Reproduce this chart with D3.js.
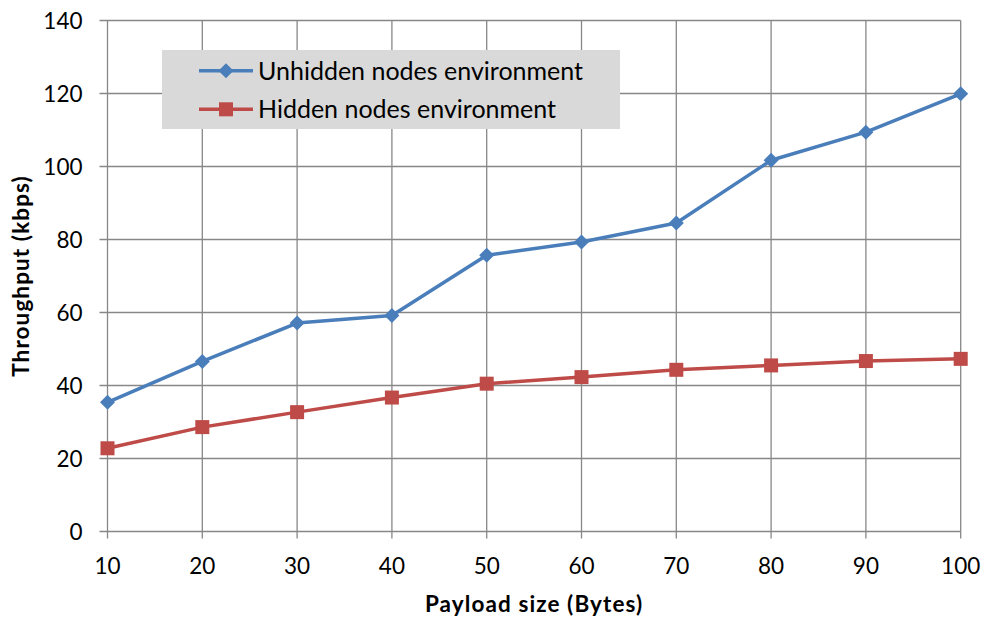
<!DOCTYPE html>
<html><head><meta charset="utf-8">
<script src="https://cdn.jsdelivr.net/npm/d3@7"></script>
<style>body{margin:0;background:#fff}svg{display:block}text{font-family:Lato,"Open Sans",sans-serif}</style>
</head><body>
<svg id="c" width="987" height="623"></svg>
<script>
const payload = [10,20,30,40,50,60,70,80,90,100];
const unhidden = [35.4,46.6,57.1,59.2,75.7,79.3,84.5,101.7,109.4,119.9];
const hidden = [22.8,28.6,32.7,36.7,40.5,42.3,44.3,45.5,46.7,47.3];
const yTicks = [0,20,40,60,80,100,120,140];
const seriesNames = ["Unhidden nodes environment","Hidden nodes environment"];
const colors = ["#4a7ebb","#be4b48"];

const svg = d3.select("#c");
const L=107.5, R=960.7, T=20.5, B=531.5;
const x = d3.scaleLinear().domain([10,100]).range([L,R]);
const y = d3.scaleLinear().domain([0,140]).range([B,T]);
const grid = "#878787";

svg.append("g").selectAll("line").data(yTicks).join("line")
  .attr("x1",L-8).attr("x2",R).attr("y1",d=>y(d)).attr("y2",d=>y(d))
  .attr("stroke",grid).attr("stroke-width",1.3);
svg.append("g").selectAll("line").data(payload).join("line")
  .attr("x1",d=>x(d)).attr("x2",d=>x(d)).attr("y1",T).attr("y2",B+7)
  .attr("stroke",grid).attr("stroke-width",1.3);

svg.append("g").selectAll("text").data(yTicks).join("text")
  .attr("x",L-25).attr("y",d=>y(d)).attr("dy","0.36em").attr("text-anchor","end")
  .attr("font-size",22.5).attr("fill","#000").text(d=>d);
svg.append("g").selectAll("text").data(payload).join("text")
  .attr("x",d=>x(d)).attr("y",574).attr("text-anchor","middle")
  .attr("font-size",22.5).attr("fill","#000").text(d=>d);

svg.append("text").attr("x",(L+R)/2).attr("y",612).attr("text-anchor","middle")
  .attr("font-size",22.5).attr("letter-spacing",1.1).attr("font-weight","bold").text("Payload size (Bytes)");
svg.append("text").attr("transform",`translate(29,${(T+B)/2}) rotate(-90)`)
  .attr("text-anchor","middle").attr("font-size",22.5).attr("letter-spacing",1.1).attr("font-weight","bold").text("Throughput (kbps)");

const line = d3.line().x((d,i)=>x(payload[i])).y(d=>y(d));
function diamond(g,cx,cy,c){g.append("path").attr("d",`M${cx},${cy-7.5}L${cx+7.5},${cy}L${cx},${cy+7.5}L${cx-7.5},${cy}Z`).attr("fill",c);}
function square(g,cx,cy,c){g.append("rect").attr("x",cx-7).attr("y",cy-7).attr("width",14).attr("height",14).attr("fill",c);}

[unhidden,hidden].forEach((s,k)=>{
  const g = svg.append("g");
  g.append("path").attr("d",line(s)).attr("fill","none").attr("stroke",colors[k]).attr("stroke-width",3.5).attr("stroke-linejoin","round");
  s.forEach((v,i)=> (k===0?diamond:square)(g,x(payload[i]),y(v),colors[k]));
});

const lg = svg.append("g");
lg.append("rect").attr("x",162).attr("y",50).attr("width",458).attr("height",79).attr("fill","#d9d9d9");
[70.7,109.3].forEach((cy,k)=>{
  lg.append("line").attr("x1",199).attr("x2",253).attr("y1",cy).attr("y2",cy).attr("stroke",colors[k]).attr("stroke-width",3.5);
  (k===0?diamond:square)(lg,226,cy,colors[k]);
  lg.append("text").attr("x",258).attr("y",cy).attr("dy","0.36em").attr("font-size",25).attr("fill","#000").text(seriesNames[k]);
});
</script>
</body></html>
